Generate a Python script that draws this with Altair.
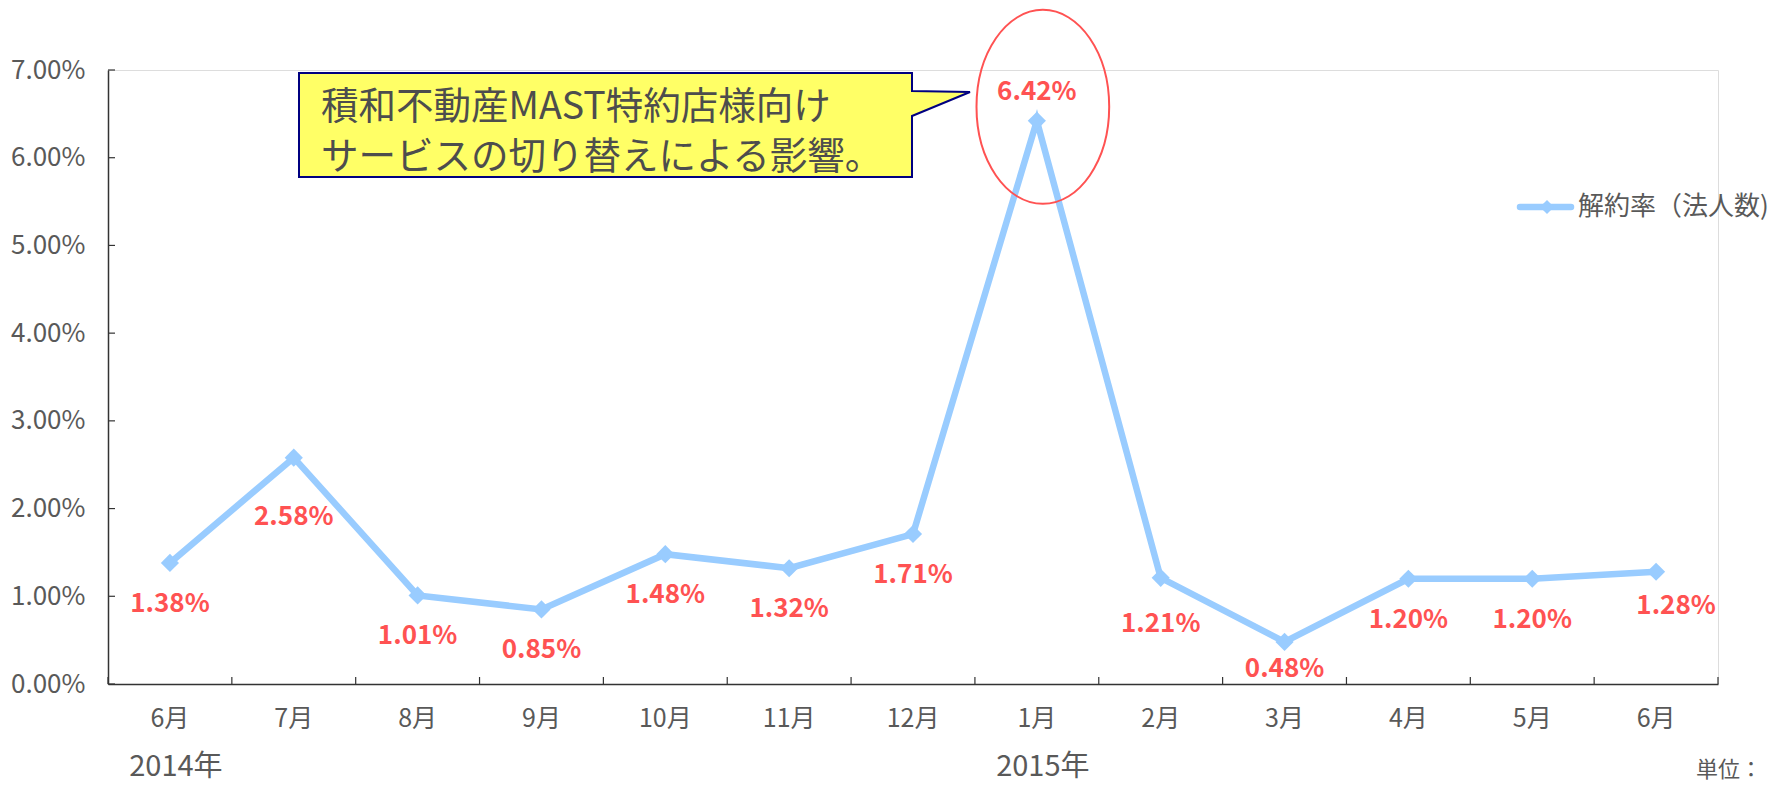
import altair as alt
import pandas as pd

# ---- data ----
months = ["6月", "7月", "8月", "9月", "10月", "11月", "12月", "1月", "2月", "3月", "4月", "5月", "6月"]
years = ["2014", "2014", "2014", "2014", "2014", "2014", "2014", "2015", "2015", "2015", "2015", "2015", "2015"]
rates = [1.38, 2.58, 1.01, 0.85, 1.48, 1.32, 1.71, 6.42, 1.21, 0.48, 1.20, 1.20, 1.28]
y_ticks = [0, 1, 2, 3, 4, 5, 6, 7]
year_labels = ["2014年", "2015年"]
year_at = ["2014-6月", "2015-1月"]
series_name = "解約率（法人数)"
callout_lines = ["積和不動産MAST特約店様向け", "サービスの切り替えによる影響。"]
unit_text = "単位："
peak_key = "2015-1月"

# ---- styles ----
FONT = "Noto Sans CJK JP"
BLUE = "#99CCFF"
RED = "#FF5252"
GREY = "#595959"
AXIS = "#333333"
W, H = 1610, 614
# label placement (style): default offset below the point, with a few special placements
LABEL_DY_DEFAULT = 41
LABEL_STYLE = {
    "2014-7月": dict(dy=59),
    "2015-1月": dict(dy=-29),
    "2015-2月": dict(dy=46),
    "2015-3月": dict(dy=27),
    "2015-6月": dict(dy=34, dx=20),
}

keys = [f"{y}-{m}" for y, m in zip(years, months)]
df = pd.DataFrame({"key": keys, "month": months, "rate": rates})

x_scale = alt.Scale(type="band", domain=keys, paddingInner=0, paddingOuter=0)
y_scale = alt.Scale(domain=[0, 7], nice=False, zero=True)
x_axis = alt.Axis(title=None, ticks=False, grid=False, labelAngle=0,
                  labelExpr="split(datum.value, '-')[1]", labelFontSize=25,
                  labelColor=GREY, labelPadding=22, labelFont=FONT,
                  domainColor=AXIS, domainWidth=1.5)
y_axis = alt.Axis(title=None, ticks=False, grid=False, values=y_ticks,
                  labelExpr="format(datum.value, '.2f') + '%'", labelFontSize=26,
                  labelColor=GREY, labelPadding=23, labelFont=FONT,
                  domainColor=AXIS, domainWidth=1.5)


def X(band=0.5):
    return alt.X("key:N", scale=x_scale, axis=x_axis, bandPosition=band)


def Y():
    return alt.Y("rate:Q", scale=y_scale, axis=y_axis)


base = alt.Chart(df)

line = base.mark_line(color=BLUE, strokeWidth=6.5).encode(x=X(), y=Y())
pts = base.mark_point(shape="diamond", filled=True, size=330, color=BLUE, opacity=1).encode(x=X(), y=Y())

lbl_base = base.transform_calculate(lbl="format(datum.rate, '.2f') + '%'")
special = list(LABEL_STYLE.keys())
label_layers = [
    lbl_base.transform_filter(~alt.FieldOneOfPredicate(field="key", oneOf=special)).mark_text(
        dy=LABEL_DY_DEFAULT, fontWeight="bold", fontSize=26, color=RED, font=FONT
    ).encode(x=X(), y=Y(), text="lbl:N")
]
for k, st in LABEL_STYLE.items():
    label_layers.append(
        lbl_base.transform_filter(alt.datum.key == k).mark_text(
            fontWeight="bold", fontSize=26, color=RED, font=FONT, **st
        ).encode(x=X(), y=Y(), text="lbl:N")
    )

ellipse = base.transform_filter(alt.datum.key == peak_key).mark_point(
    shape="M-0.684,0 A0.684,1 0 1,1 0.684,0 A0.684,1 0 1,1 -0.684,0 Z",
    size=194 * 194, filled=False, stroke=RED, strokeWidth=2, opacity=1,
    yOffset=-14, xOffset=6
).encode(x=X(), y=Y())

# inward ticks
ytick_df = pd.DataFrame({"rate": y_ticks})
yticks = alt.Chart(ytick_df).mark_rule(color=AXIS, strokeWidth=1.2).encode(
    y=Y(), x=alt.value(0), x2=alt.value(7))
xticks = base.mark_rule(color=AXIS, strokeWidth=1.2).encode(
    x=X(0), y=alt.value(H), y2=alt.value(H - 7))
xtick_end = base.transform_filter(alt.datum.key == keys[-1]).mark_rule(color=AXIS, strokeWidth=1.2).encode(
    x=X(1), y=alt.value(H), y2=alt.value(H - 7))

# year labels under the axis
year_df = pd.DataFrame({"key": year_at, "label": year_labels})
years_txt = alt.Chart(year_df).mark_text(fontSize=29, color=GREY, font=FONT, baseline="middle", dx=6).encode(
    x=X(), y=alt.value(697), text="label:N")

# unit text at the lower right
unit = alt.Chart(pd.DataFrame({"t": [unit_text]})).mark_text(
    fontSize=22, color=GREY, font=FONT, align="left", baseline="middle").encode(
    x=alt.value(1588), y=alt.value(700), text="t:N")

# legend
leg_df = pd.DataFrame({"t": [series_name]})
leg_line = alt.Chart(leg_df).mark_rule(color=BLUE, strokeWidth=6.5, strokeCap="round").encode(
    x=alt.value(1412), x2=alt.value(1463), y=alt.value(137))
leg_pt = alt.Chart(leg_df).mark_point(shape="diamond", filled=True, size=200, color=BLUE, opacity=1).encode(
    x=alt.value(1439), y=alt.value(137))
leg_txt = alt.Chart(leg_df).mark_text(fontSize=26, color=GREY, font=FONT, align="left", baseline="middle").encode(
    x=alt.value(1470), y=alt.value(137), text="t:N")

# callout box
callout_path = "M191,3 L804,3 L804,21 L862,22 L804,46 L804,107 L191,107 Z"
callout = alt.Chart(pd.DataFrame({"t": ["box"]})).mark_point(
    shape=callout_path, size=4, filled=True, fill="#FFFF66", stroke="#000080",
    strokeWidth=2, opacity=1, fillOpacity=1).encode(x=alt.value(0), y=alt.value(0))
cl_df = pd.DataFrame({"t": callout_lines, "row": [0, 1]})
callout_txt1 = alt.Chart(cl_df).transform_filter(alt.datum.row == 0).mark_text(
    fontSize=37.5, color="#4D4D4D", font=FONT, align="left", baseline="middle").encode(
    x=alt.value(213), y=alt.value(38), text="t:N")
callout_txt2 = alt.Chart(cl_df).transform_filter(alt.datum.row == 1).mark_text(
    fontSize=37.5, color="#4D4D4D", font=FONT, align="left", baseline="middle").encode(
    x=alt.value(213), y=alt.value(88), text="t:N")

chart = alt.layer(
    yticks, xticks, xtick_end, line, pts, *label_layers, ellipse,
    years_txt, unit, leg_line, leg_pt, leg_txt,
    callout, callout_txt1, callout_txt2
).properties(
    width=W, height=H,
    autosize=alt.AutoSizeParams(type="none"),
    padding={"left": 100, "top": 62, "right": 57, "bottom": 99},
).configure_view(stroke=None).configure(font=FONT)

chart.save("out.html", embed_options={"renderer": "svg", "actions": False})
